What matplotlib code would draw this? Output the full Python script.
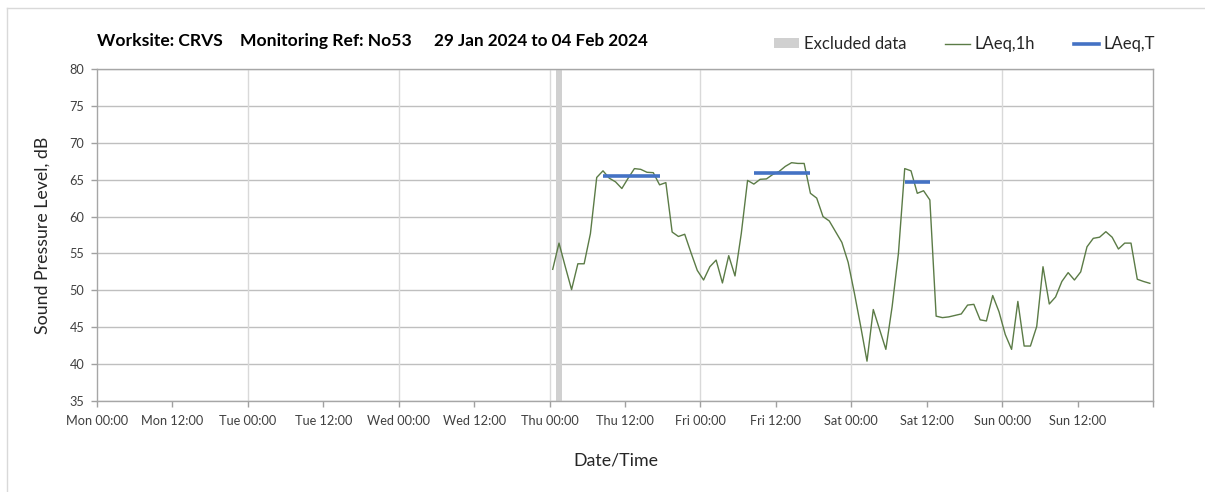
import matplotlib
matplotlib.use("Agg")
import matplotlib.pyplot as plt
from matplotlib.lines import Line2D
from matplotlib.patches import Patch
import numpy as np

# ---------------- data ----------------
title_site = "Worksite: CRVS"
title_ref = "Monitoring Ref: No53"
title_period = "29 Jan 2024 to 04 Feb 2024"

# hours since Mon 00:00, hourly LAeq,1h (plotted at mid-hour)
laeq1h_start_hour = 72.5
laeq1h_values = [
    52.85, 56.4, 53.2, 50.1, 53.6, 53.6, 57.7, 65.3, 66.2, 65.2, 64.7, 63.8,
    65.2, 66.5, 66.4, 66.0, 65.95, 64.3, 64.6, 57.9, 57.3, 57.6, 55.1, 52.7,
    51.4, 53.2, 54.1, 51.0, 54.7, 51.95, 57.7, 64.9, 64.4, 65.05, 65.1, 65.7,
    66.1, 66.8, 67.3, 67.2, 67.2, 63.15, 62.5, 60.0, 59.4, 57.95, 56.5, 53.8,
    49.6, 45.1, 40.4, 47.4, 44.7, 42.0, 47.8, 55.0, 66.5, 66.2, 63.15, 63.5,
    62.25, 46.5, 46.3, 46.4, 46.6, 46.8, 48.0, 48.1, 46.0, 45.85, 49.3, 47.1,
    44.0, 42.0, 48.5, 42.45, 42.45, 45.1, 53.2, 48.15, 49.1, 51.2, 52.4, 51.4,
    52.5, 55.9, 57.05, 57.2, 57.95, 57.2, 55.6, 56.4, 56.4, 51.5, 51.2, 50.95,
]
laeq1h_hours = laeq1h_start_hour + np.arange(len(laeq1h_values))

# LAeq,T periods: (start hour, end hour, level)
laeqT_start = [80.5, 104.5, 128.5]
laeqT_end = [89.5, 113.5, 132.5]
laeqT_level = [65.45, 65.95, 64.75]

# excluded data periods
excluded_start = [73.0]
excluded_end = [74.0]

tick_hours = list(range(0, 169, 12))
tick_labels = ["Mon 00:00", "Mon 12:00", "Tue 00:00", "Tue 12:00", "Wed 00:00",
               "Wed 12:00", "Thu 00:00", "Thu 12:00", "Fri 00:00", "Fri 12:00",
               "Sat 00:00", "Sat 12:00", "Sun 00:00", "Sun 12:00", ""]
y_ticks = list(range(35, 81, 5))

# ---------------- figure ----------------
W, H = 1205, 492
fig = plt.figure(figsize=(W / 100, H / 100), dpi=100)
plt.rcParams['font.family'] = ['Lato', 'DejaVu Sans']

left, right, top, bottom = 97, 1153, 69, 401
ax = fig.add_axes([left / W, 1 - bottom / H, (right - left) / W, (bottom - top) / H])

ax.set_xlim(0, 168)
ax.set_ylim(35, 80)

# grid
for yv in y_ticks:
    ax.axhline(yv, color="#bfbfbf", lw=1.0, zorder=0)
for xv in range(24, 168, 24):
    ax.axvline(xv, color="#d9d9d9", lw=1.0, zorder=0)

for s, e in zip(excluded_start, excluded_end):
    ax.axvspan(s, e, color="#d0d0d0", lw=0, zorder=1)

ax.plot(laeq1h_hours, laeq1h_values, color="#5b7b46", lw=1.0, zorder=3)
for s, e, lv in zip(laeqT_start, laeqT_end, laeqT_level):
    ax.plot([s, e], [lv, lv], color="#4472c4", lw=2.6, zorder=4,
            solid_capstyle="butt")

ax.set_xticks(tick_hours)
ax.set_xticklabels(tick_labels, fontsize=9.2, color="#404040")
ax.set_yticks(y_ticks)
ax.set_yticklabels([str(v) for v in y_ticks], fontsize=9.2, color="#404040")
ax.tick_params(axis="both", direction="out", length=4, color="#a0a0a0", width=1)
ax.tick_params(axis="x", pad=6)
ax.tick_params(axis="y", pad=5)
for sp in ax.spines.values():
    sp.set_color("#a6a6a6")
    sp.set_linewidth(1.0)

ax.set_ylabel("Sound Pressure Level, dB", fontsize=12.8, color="#262626", labelpad=14)
fig.text(616 / W, 1 - 460 / H, "Date/Time", fontsize=12.8, color="#262626",
         ha="center", va="center")

# title pieces
ty = 1 - 41 / H
fig.text(97 / W, ty, title_site, fontsize=12.6, fontweight="bold", va="center", color="#000000")
fig.text(240 / W, ty, title_ref, fontsize=12.6, fontweight="bold", va="center", color="#000000")
fig.text(434 / W, ty, title_period, fontsize=12.3, fontweight="bold", va="center", color="#000000")

# legend
handles = [Patch(facecolor="#d0d0d0", edgecolor="none"),
           Line2D([], [], color="#5b7b46", lw=1.0),
           Line2D([], [], color="#4472c4", lw=2.6)]
labels = ["Excluded data", "LAeq,1h", "LAeq,T"]
fig.legend(handles, labels, loc="center right", bbox_to_anchor=(1170 / W, 1 - 44 / H),
           ncol=3, frameon=False, fontsize=12, handlelength=1.5, handletextpad=0.3,
           columnspacing=2.3, handleheight=0.5, labelcolor="#262626")

# figure border (top and left)
fig.add_artist(Line2D([7.5 / W, 7.5 / W], [0, 1 - 7.5 / H], color="#d9d9d9", lw=1.0,
                      transform=fig.transFigure))
fig.add_artist(Line2D([7.5 / W, 1], [1 - 7.5 / H, 1 - 7.5 / H], color="#d9d9d9", lw=1.0,
                      transform=fig.transFigure))

fig.savefig("out.png", dpi=100)
